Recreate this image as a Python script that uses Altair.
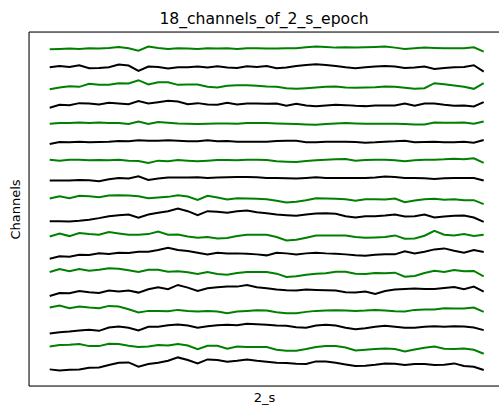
import altair as alt
import numpy as np
import pandas as pd

# 18 channels, 45 samples over a 2 s epoch; amplitudes in arbitrary units
ch00 = [-2,-1,0,-1,1,0,2,5,1,-6,6,2,-1,1,0,-1,1,0,1,-1,1,1,0, 0,1,1,4,6,5,3,4,3,4,5,6,3,-1,1,3,2,1,1,1,4,-9]
ch01 = [0,4,1,6,-3,-2,0,8,5,-11,2,1,-4,0,0,2,-1,3,-1,-2,3,1,4, -3,-1,4,7,9,7,4,0,-3,0,2,4,2,-2,-1,2,-5,-2,0,1,6,-13]
ch02 = [-10,-5,-1,-3,6,3,3,8,7,17,4,11,11,3,4,4,-3,-5,0,2,2,0,-2, -3,-7,-9,-7,-5,-3,-2,-5,-6,-5,-4,-2,-3,-6,-9,-7,8,5,1,-3,-9,8]
ch03 = [-10,-1,-2,4,3,0,5,3,1,10,3,7,11,9,1,4,0,-1,5,0,3,3,2, 3,-4,2,-3,-5,-3,-1,-2,-4,-5,-3,-3,-3,3,-4,3,3,-1,-4,-3,-6,7]
ch04 = [-2,0,0,2,0,2,0,0,-3,5,-3,3,1,-1,-2,-3,-2,-1,-1,-2,0,0,0, -1,-2,-3,-4,-5,-3,-1,0,-1,-2,-2,-2,-2,-3,-4,-4,2,1,1,2,-2,5]
ch05 = [-7,-1,-2,0,-2,-1,0,2,1,4,3,3,4,3,1,1,4,1,2,0,0,0,0, 2,3,3,-2,-2,0,0,0,-1,-3,-2,0,1,3,-2,-1,0,-2,-2,0,-3,5]
ch06 = [2,-1,2,2,0,1,0,2,-1,-2,-8,-1,-3,1,-1,-3,-1,1,1,0,2,2,1, -3,-4,-5,-2,0,2,3,4,-1,1,2,2,0,-3,0,2,2,3,5,3,6,-8]
ch07 = [-5,-5,-5,-3,-4,-7,-1,3,1,8,-3,1,4,4,4,5,3,4,5,6,6,5,3, 3,2,1,3,5,3,3,3,3,3,4,7,6,3,3,2,0,2,3,3,3,-5]
ch08 = [-3,4,-2,5,4,1,6,7,6,4,-2,0,2,7,3,-7,5,0,-6,-2,-3,-4,-5, -10,-15,-13,-8,-2,-3,-4,-5,-10,-5,-5,-6,-3,-14,-9,-5,-4,-7,-5,-8,-8,-20]
ch09 = [-15,-15,-16,-14,-11,-6,0,3,5,-5,5,10,15,23,15,3,15,13,10,15,17,12,9, 5,3,1,5,8,9,7,0,-4,0,0,2,5,-1,0,5,-4,-1,1,2,-4,-17]
ch10 = [-5,4,-4,5,2,0,8,4,0,0,2,10,0,1,-5,-9,-7,-11,-10,-4,0,0,0, -7,-17,-15,-9,-2,-2,-2,-2,-7,-9,-8,-7,-2,-12,-11,-3,12,0,-2,2,-4,0]
ch11 = [-16,-9,-10,-4,-5,0,-2,2,1,5,5,10,17,10,7,2,-3,2,0,0,-1,-3,-6, 2,0,-3,0,2,0,-1,-3,-6,-7,-4,-3,-3,6,0,5,12,15,8,2,10,4]
ch12 = [0,9,2,9,4,7,11,10,5,0,7,7,1,2,-1,-6,0,-6,-8,-3,0,0,0, -5,-15,-13,-8,-5,-4,1,1,-5,-6,-3,-4,-2,-14,-12,-3,4,0,6,2,3,-13]
ch13 = [-16,-7,-8,-1,-5,-7,0,-3,0,-6,4,10,4,17,9,-1,7,10,12,12,17,10,7, 3,1,0,3,2,1,0,-5,-6,-3,-10,-1,3,5,6,5,5,8,11,4,12,-3]
ch14 = [5,11,3,8,5,3,10,8,0,-10,-5,-5,-6,-2,-5,-7,-5,-7,-12,-7,-5,-3,-4, -9,-12,-12,-8,-5,-4,-3,-4,-5,-4,-2,-4,-6,-7,-2,-1,-1,3,2,2,5,-8]
ch15 = [-17,-13,-11,-8,-6,-9,1,4,0,-8,3,3,8,10,7,0,5,8,9,8,12,11,9, 7,6,2,0,7,9,7,0,-4,-1,3,6,3,0,0,3,5,3,5,4,1,-7]
ch16 = [0,4,5,7,1,1,8,7,2,-2,0,4,3,7,3,-8,2,2,-7,0,-2,-2,-2, -10,-13,-13,-8,-2,1,1,-3,-12,-10,-8,-6,-8,-15,-9,-4,0,-7,-8,-6,-10,-22]
ch17 = [-13,-16,-14,-13,-8,-7,0,7,8,-5,3,7,13,23,15,5,17,15,10,13,17,13,10, 7,6,4,3,11,11,7,2,-3,-2,1,5,4,0,3,3,0,1,5,-3,-5,-15]

channels = [ch00, ch01, ch02, ch03, ch04, ch05, ch06, ch07, ch08,
            ch09, ch10, ch11, ch12, ch13, ch14, ch15, ch16, ch17]
spacing = 56
times = np.linspace(0, 2, len(ch00))

rows = []
for i, ch in enumerate(channels):
    offset = (len(channels) - 1 - i) * spacing
    for t, v in zip(times, ch):
        rows.append({"t": float(t), "y": offset + v, "ch": f"ch{i:02d}",
                     "grp": "green" if i % 2 == 0 else "black"})
df = pd.DataFrame(rows)

W, H = 470, 354

lines = alt.Chart(df).mark_line(strokeWidth=2, clip=True).encode(
    x=alt.X("t:Q", scale=alt.Scale(domain=[-0.0954, 2.0705], nice=False, zero=False),
            axis=alt.Axis(title="2_s", labels=False, ticks=False, domain=False, grid=False,
                          titlePadding=5, titleFont="DejaVu Sans", titleFontSize=13,
                          titleFontWeight="normal", titleColor="black")),
    y=alt.Y("y:Q", scale=alt.Scale(domain=[-63, 1002], nice=False, zero=False),
            axis=alt.Axis(title="Channels", labels=False, ticks=False, domain=False, grid=False,
                          titlePadding=7, titleFont="DejaVu Sans", titleFontSize=13,
                          titleFontWeight="normal", titleColor="black")),
    detail="ch:N",
    color=alt.Color("grp:N", scale=alt.Scale(domain=["green", "black"], range=["#008000", "#000000"]),
                    legend=None),
)

frame_df = pd.DataFrame({"k": [0]})
top = alt.Chart(frame_df).mark_rule(color="black", strokeWidth=1).encode(
    x=alt.value(0), x2=alt.value(W), y=alt.value(0))
bottom = alt.Chart(frame_df).mark_rule(color="black", strokeWidth=1).encode(
    x=alt.value(0), x2=alt.value(W), y=alt.value(H))
left = alt.Chart(frame_df).mark_rule(color="black", strokeWidth=1).encode(
    x=alt.value(0), y=alt.value(0), y2=alt.value(H))

chart = alt.layer(lines, top, bottom, left).properties(
    width=W, height=H,
    title=alt.TitleParams("18_channels_of_2_s_epoch", font="DejaVu Sans", fontSize=15.6,
                          fontWeight="normal", color="black", anchor="middle", offset=4),
    autosize=alt.AutoSizeParams(type="none"),
    padding={"left": 29, "top": 32, "right": 0, "bottom": 20},
).configure_view(stroke=None).configure(background="white")

chart.save("out.html", embed_options={"renderer": "svg", "actions": False})
